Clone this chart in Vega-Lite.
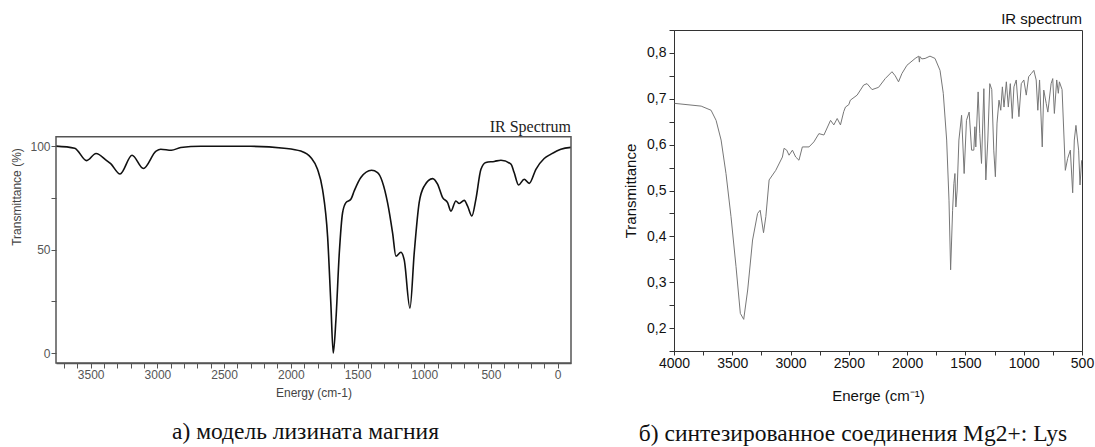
{
  "$schema": "https://vega.github.io/schema/vega-lite/v6.json",
  "padding": {"left": 10, "top": 11, "right": 0, "bottom": 0},
  "background": "white",
  "bounds": "flush",
  "spacing": 103,
  "config": {
    "view": {"stroke": null},
    "axis": {"grid": false, "labelFont": "Liberation Sans", "titleFont": "Liberation Sans", "titleFontWeight": "normal", "tickCount": 100, "labelFlush": false}
  },
  "datasets": {
    "one": [{"k": 1}],
    "model": [
      {"wn": 3760, "t": 100}, {"wn": 3620, "t": 99}, {"wn": 3530, "t": 93}, {"wn": 3460, "t": 96.4},
      {"wn": 3380, "t": 93}, {"wn": 3350, "t": 91.5}, {"wn": 3280, "t": 86.5}, {"wn": 3190, "t": 95.6},
      {"wn": 3105, "t": 89.2}, {"wn": 3010, "t": 97.6}, {"wn": 2975, "t": 98.5}, {"wn": 2895, "t": 98},
      {"wn": 2825, "t": 99.3}, {"wn": 2675, "t": 99.9}, {"wn": 2300, "t": 99.9}, {"wn": 2050, "t": 99},
      {"wn": 1925, "t": 97.6}, {"wn": 1850, "t": 94.5}, {"wn": 1800, "t": 88.8}, {"wn": 1762, "t": 79},
      {"wn": 1724, "t": 56}, {"wn": 1700, "t": 24}, {"wn": 1682, "t": 0}, {"wn": 1662, "t": 16},
      {"wn": 1637, "t": 48}, {"wn": 1612, "t": 67.8}, {"wn": 1587, "t": 72.7}, {"wn": 1550, "t": 74.3},
      {"wn": 1525, "t": 78.3}, {"wn": 1475, "t": 84.8}, {"wn": 1395, "t": 88.3}, {"wn": 1350, "t": 87.2},
      {"wn": 1275, "t": 72.7}, {"wn": 1237, "t": 58}, {"wn": 1212, "t": 46.8}, {"wn": 1175, "t": 48.7},
      {"wn": 1150, "t": 45}, {"wn": 1107, "t": 21.7}, {"wn": 1075, "t": 48.4}, {"wn": 1038, "t": 72.7},
      {"wn": 1000, "t": 80.7}, {"wn": 937, "t": 84.3}, {"wn": 900, "t": 81.6}, {"wn": 862, "t": 75.1},
      {"wn": 825, "t": 72.7}, {"wn": 800, "t": 68.6}, {"wn": 763, "t": 73.5}, {"wn": 738, "t": 72.3},
      {"wn": 700, "t": 73.8}, {"wn": 675, "t": 71}, {"wn": 643, "t": 66.2}, {"wn": 613, "t": 74.3},
      {"wn": 575, "t": 88.8}, {"wn": 538, "t": 92.1}, {"wn": 475, "t": 92.6}, {"wn": 425, "t": 93.2},
      {"wn": 350, "t": 91.3}, {"wn": 326, "t": 87.2}, {"wn": 293, "t": 81.2}, {"wn": 251, "t": 84},
      {"wn": 213, "t": 82}, {"wn": 163, "t": 88.8}, {"wn": 101, "t": 94}, {"wn": 50, "t": 96.1},
      {"wn": -24, "t": 98.5}, {"wn": -100, "t": 99.4}
    ],
    "synth": [
      {"wn": 3995, "t": 0.690}, {"wn": 3767, "t": 0.684}, {"wn": 3682, "t": 0.675}, {"wn": 3639, "t": 0.653},
      {"wn": 3596, "t": 0.610}, {"wn": 3554, "t": 0.537}, {"wn": 3511, "t": 0.443}, {"wn": 3468, "t": 0.334},
      {"wn": 3431, "t": 0.232}, {"wn": 3402, "t": 0.219}, {"wn": 3368, "t": 0.283}, {"wn": 3326, "t": 0.392},
      {"wn": 3283, "t": 0.450}, {"wn": 3261, "t": 0.457}, {"wn": 3232, "t": 0.408}, {"wn": 3212, "t": 0.443},
      {"wn": 3184, "t": 0.523}, {"wn": 3127, "t": 0.544}, {"wn": 3070, "t": 0.573}, {"wn": 3056, "t": 0.592},
      {"wn": 3033, "t": 0.588}, {"wn": 3013, "t": 0.577}, {"wn": 2984, "t": 0.588}, {"wn": 2956, "t": 0.573},
      {"wn": 2928, "t": 0.566}, {"wn": 2899, "t": 0.595}, {"wn": 2842, "t": 0.595}, {"wn": 2800, "t": 0.606},
      {"wn": 2757, "t": 0.624}, {"wn": 2714, "t": 0.621}, {"wn": 2657, "t": 0.653}, {"wn": 2629, "t": 0.643},
      {"wn": 2600, "t": 0.657}, {"wn": 2572, "t": 0.643}, {"wn": 2544, "t": 0.672}, {"wn": 2529, "t": 0.682},
      {"wn": 2501, "t": 0.687}, {"wn": 2487, "t": 0.697}, {"wn": 2429, "t": 0.708}, {"wn": 2373, "t": 0.730},
      {"wn": 2344, "t": 0.733}, {"wn": 2301, "t": 0.720}, {"wn": 2245, "t": 0.725}, {"wn": 2188, "t": 0.744},
      {"wn": 2130, "t": 0.759}, {"wn": 2102, "t": 0.750}, {"wn": 2074, "t": 0.737}, {"wn": 2045, "t": 0.755},
      {"wn": 2002, "t": 0.773}, {"wn": 1931, "t": 0.788}, {"wn": 1900, "t": 0.793}, {"wn": 1895, "t": 0.780},
      {"wn": 1890, "t": 0.792}, {"wn": 1874, "t": 0.787}, {"wn": 1846, "t": 0.788}, {"wn": 1804, "t": 0.793},
      {"wn": 1761, "t": 0.788}, {"wn": 1718, "t": 0.762}, {"wn": 1690, "t": 0.712}, {"wn": 1661, "t": 0.610},
      {"wn": 1641, "t": 0.479}, {"wn": 1627, "t": 0.327}, {"wn": 1610, "t": 0.457}, {"wn": 1599, "t": 0.515},
      {"wn": 1590, "t": 0.537}, {"wn": 1582, "t": 0.464}, {"wn": 1571, "t": 0.501}, {"wn": 1556, "t": 0.610},
      {"wn": 1533, "t": 0.664}, {"wn": 1511, "t": 0.537}, {"wn": 1491, "t": 0.653}, {"wn": 1468, "t": 0.671},
      {"wn": 1447, "t": 0.588}, {"wn": 1428, "t": 0.588}, {"wn": 1419, "t": 0.639}, {"wn": 1411, "t": 0.595},
      {"wn": 1391, "t": 0.715}, {"wn": 1377, "t": 0.624}, {"wn": 1362, "t": 0.559}, {"wn": 1342, "t": 0.722},
      {"wn": 1325, "t": 0.523}, {"wn": 1308, "t": 0.610}, {"wn": 1291, "t": 0.733}, {"wn": 1274, "t": 0.720},
      {"wn": 1257, "t": 0.588}, {"wn": 1243, "t": 0.530}, {"wn": 1229, "t": 0.647}, {"wn": 1212, "t": 0.697},
      {"wn": 1197, "t": 0.675}, {"wn": 1183, "t": 0.726}, {"wn": 1169, "t": 0.682}, {"wn": 1149, "t": 0.737},
      {"wn": 1132, "t": 0.682}, {"wn": 1115, "t": 0.733}, {"wn": 1098, "t": 0.657}, {"wn": 1084, "t": 0.726},
      {"wn": 1064, "t": 0.741}, {"wn": 1041, "t": 0.661}, {"wn": 1021, "t": 0.733}, {"wn": 999, "t": 0.741},
      {"wn": 978, "t": 0.708}, {"wn": 958, "t": 0.748}, {"wn": 935, "t": 0.755}, {"wn": 913, "t": 0.762},
      {"wn": 893, "t": 0.741}, {"wn": 879, "t": 0.675}, {"wn": 864, "t": 0.741}, {"wn": 841, "t": 0.595},
      {"wn": 828, "t": 0.719}, {"wn": 807, "t": 0.690}, {"wn": 793, "t": 0.671}, {"wn": 765, "t": 0.733},
      {"wn": 751, "t": 0.744}, {"wn": 737, "t": 0.668}, {"wn": 717, "t": 0.741}, {"wn": 703, "t": 0.712},
      {"wn": 694, "t": 0.737}, {"wn": 671, "t": 0.720}, {"wn": 643, "t": 0.544}, {"wn": 623, "t": 0.570},
      {"wn": 600, "t": 0.588}, {"wn": 580, "t": 0.495}, {"wn": 566, "t": 0.610}, {"wn": 552, "t": 0.642},
      {"wn": 529, "t": 0.588}, {"wn": 517, "t": 0.512}, {"wn": 503, "t": 0.566}
    ]
  },
  "hconcat": [
    {
      "width": 515,
      "height": 333,
      "title": {"text": "а) модель лизината магния", "orient": "bottom", "anchor": "middle", "font": "Liberation Serif", "fontSize": 23.5, "fontWeight": "normal", "color": "#111", "offset": 22, "dx": -8},
      "layer": [
        {
          "data": {"name": "model"},
          "mark": {"type": "line", "color": "#111", "strokeWidth": 1.6, "interpolate": "monotone"},
          "encoding": {
            "x": {"field": "wn", "type": "quantitative", "scale": {"domain": [3760, -100], "nice": false, "zero": false},
              "axis": {"values": [3700,3600,3500,3400,3300,3200,3100,3000,2900,2800,2700,2600,2500,2400,2300,2200,2100,2000,1900,1800,1700,1600,1500,1400,1300,1200,1100,1000,900,800,700,600,500,400,300,200,100,0],
                "tickCount": 100, "labelOverlap": false, "labelFlush": false,
                "labelExpr": "datum.value % 500 === 0 ? datum.label : ''", "format": "d",
                "title": "Energy (cm-1)", "titleFontSize": 12, "titleColor": "#444", "titlePadding": 7,
                "labelFontSize": 12, "labelColor": "#555", "labelPadding": 1, "tickSize": 5, "tickColor": "#555", "domainColor": "#555", "domainWidth": 1.5}},
            "y": {"field": "t", "type": "quantitative", "scale": {"domain": [-4.8, 156.1], "nice": false, "zero": false},
              "axis": {"values": [0, 25, 50, 75, 100], "tickCount": 100, "labelOverlap": false, "labelFlush": false,
                "labelExpr": "datum.value % 50 === 0 ? datum.label : ''",
                "title": "Transmittance (%)", "titleFontSize": 12, "titleColor": "#444", "titlePadding": 6,
                "labelFontSize": 12, "labelColor": "#555", "labelPadding": 1, "tickSize": 5, "tickColor": "#555", "domain": false}}
          }
        },
        {
          "data": {"name": "one"},
          "mark": {"type": "rect", "filled": false, "stroke": "#555", "strokeWidth": 1.5},
          "encoding": {
            "x": {"datum": 3760, "type": "quantitative"},
            "x2": {"datum": -100},
            "y": {"datum": -4.8, "type": "quantitative"},
            "y2": {"datum": 104.5}
          }
        },
        {
          "data": {"name": "one"},
          "mark": {"type": "text", "text": "IR Spectrum", "align": "right", "baseline": "bottom", "dy": -2, "font": "Liberation Serif", "fontSize": 16, "color": "#222"},
          "encoding": {
            "x": {"datum": -100, "type": "quantitative"},
            "y": {"datum": 104.5, "type": "quantitative"}
          }
        }
      ]
    },
    {
      "width": 408,
      "height": 321,
      "view": {"stroke": "#333", "strokeWidth": 1},
      "title": {"text": "б) синтезированное соединения Mg2+: Lys", "orient": "bottom", "anchor": "middle", "font": "Liberation Serif", "fontSize": 23.5, "fontWeight": "normal", "color": "#111", "offset": 19, "dx": -25},
      "layer": [
        {
          "data": {"name": "synth"},
          "mark": {"type": "line", "color": "#777", "strokeWidth": 1},
          "encoding": {
            "x": {"field": "wn", "type": "quantitative", "scale": {"domain": [4000, 500], "nice": false, "zero": false},
              "axis": {"values": [4000,3750,3500,3250,3000,2750,2500,2250,2000,1750,1500,1250,1000,750,500],
                "tickCount": 100, "labelOverlap": false, "labelFlush": false,
                "labelExpr": "datum.value % 500 === 0 ? datum.label : ''", "format": "d",
                "title": "Energe (cm⁻¹)", "titleFontSize": 15, "titleColor": "#111", "titlePadding": 18,
                "labelFontSize": 14, "labelColor": "#111", "labelPadding": 1, "tickSize": 4, "tickColor": "#333", "domainColor": "#333"}},
            "y": {"field": "t", "type": "quantitative", "scale": {"domain": [0.15, 0.85], "nice": false, "zero": false},
              "axis": {"values": [0.15,0.2,0.25,0.3,0.35,0.4,0.45,0.5,0.55,0.6,0.65,0.7,0.75,0.8,0.85],
                "tickCount": 100, "labelOverlap": false, "labelFlush": false,
                "labelExpr": "abs(datum.value*10 - round(datum.value*10)) < 0.01 ? replace(format(datum.value, '.1f'), '.', ',') : ''",
                "title": "Transmittance", "titleFontSize": 15, "titleColor": "#111", "titlePadding": 8,
                "labelFontSize": 14, "labelColor": "#111", "labelPadding": 3, "tickSize": 5, "tickColor": "#333", "domainColor": "#333"}}
          }
        },
        {
          "data": {"name": "one"},
          "mark": {"type": "text", "text": "IR spectrum", "align": "right", "baseline": "bottom", "dy": -3, "font": "Liberation Sans", "fontSize": 15, "color": "#111"},
          "encoding": {
            "x": {"datum": 500, "type": "quantitative"},
            "y": {"datum": 0.85, "type": "quantitative"}
          }
        }
      ]
    }
  ]
}
